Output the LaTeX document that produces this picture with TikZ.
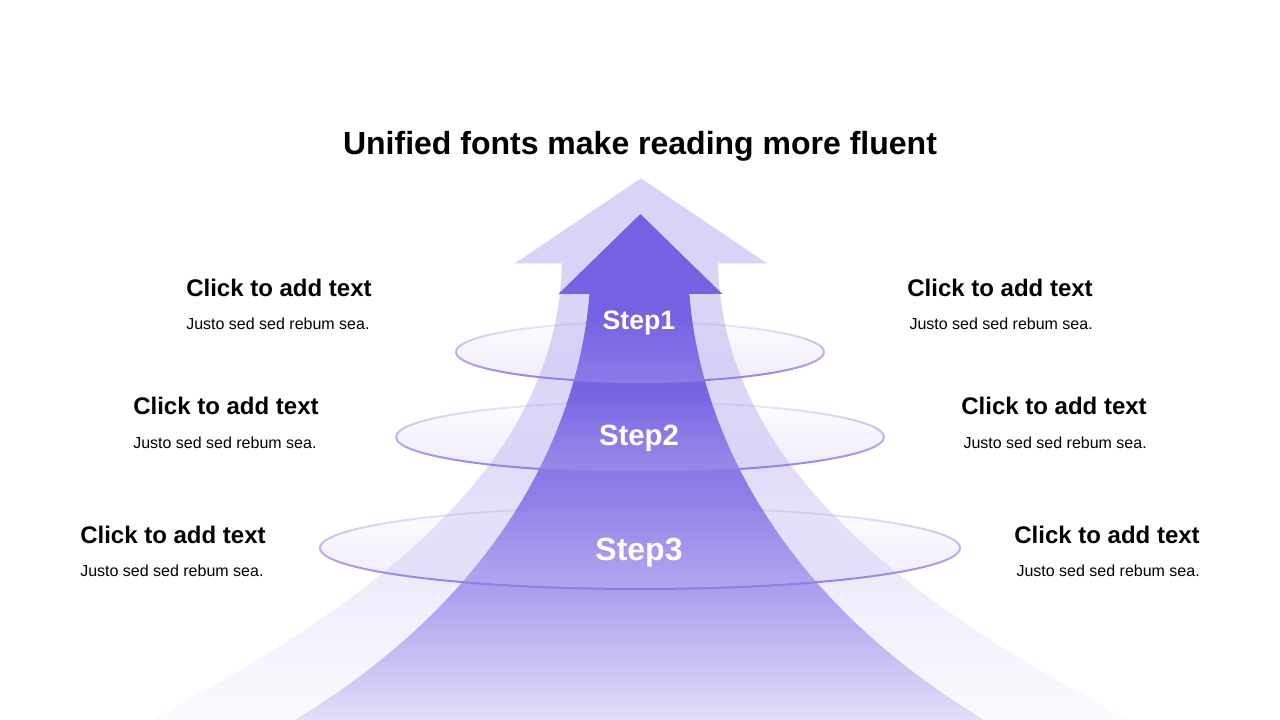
\documentclass[tikz,border=0pt]{standalone}
\usepackage{fontspec}
\setmainfont{Liberation Sans}
\usetikzlibrary{fadings}

\definecolor{arrowdark}{HTML}{7462E3}
\definecolor{arrowlight}{HTML}{D9D3F7}
\definecolor{ringline}{HTML}{8C7DE6}
\definecolor{ringfill}{HTML}{C5BCF3}

% opacity profiles of the two arrows (25bp = bottom of path, 75bp = top)
\pgfdeclareverticalshading{outerprofile}{100bp}{gray(0bp)=(0.1); gray(25bp)=(0.1);
  gray(36bp)=(0.37); gray(47bp)=(0.74); gray(58bp)=(0.95); gray(75bp)=(1); gray(100bp)=(1)}
\pgfdeclareverticalshading{innerprofile}{100bp}{gray(0bp)=(0.17); gray(25bp)=(0.17);
  gray(38bp)=(0.56); gray(49bp)=(0.8); gray(59bp)=(1); gray(75bp)=(1); gray(100bp)=(1)}
\begin{tikzfadingfrompicture}[name=outerfade]
  \path (-50bp,-50bp) rectangle (50bp,50bp);
  \shade[shading=outerprofile] (-25bp,-25bp) rectangle (25bp,25bp);
\end{tikzfadingfrompicture}
\begin{tikzfadingfrompicture}[name=innerfade]
  \path (-50bp,-50bp) rectangle (50bp,50bp);
  \shade[shading=innerprofile] (-25bp,-25bp) rectangle (25bp,25bp);
\end{tikzfadingfrompicture}
\tikzfading[name=ringfade, top color=transparent!88, bottom color=transparent!0]

\tikzset{
  ring/.style={fill=ringfill, fill opacity=.28, draw=ringline, draw opacity=1,
    line width=1.5pt, path fading=ringfade},
  headtext/.style={font=\bfseries\fontsize{18}{20}\selectfont, inner sep=0pt},
  subtext/.style={font=\fontsize{12}{14}\selectfont, inner sep=0pt},
  steplabel/.style={text=white, anchor=base, inner sep=0pt},
}

\begin{document}
\begin{tikzpicture}[x=0.75pt,y=-0.75pt]
\fill[white] (0,0) rectangle (1280,720);
\useasboundingbox (0,0) rectangle (1280,720);

% outer light arrow
\fill[arrowlight, path fading=outerfade] (641,178) -- (767,263) -- (718,263)
  .. controls (722,450) and (880,590) .. (1130,720) -- (150,720)
  .. controls (400,590) and (558,450) .. (562,263) -- (515,263) -- cycle;

% inner arrow
\fill[arrowdark, path fading=innerfade] (641,214) -- (723,294) -- (690,294)
  .. controls (700,420) and (770,590) .. (985,720) -- (295,720)
  .. controls (510,590) and (580,420) .. (590,294) -- (559,294) -- cycle;

% rings
\foreach \cy/\rx/\ry in {352/184/30, 437/244/35, 548/320/41}
  \path[ring] (640,\cy) ellipse [x radius=\rx, y radius=\ry];

\node[font=\bfseries\fontsize{24}{28}\selectfont, anchor=base, inner sep=0pt] (title)
  at (640,155) {Unified fonts make reading more fluent};

\node[steplabel, font=\bfseries\fontsize{20}{24}\selectfont] (step1) at (639,329) {Step1};
\node[steplabel, font=\bfseries\fontsize{22}{26}\selectfont] (step2) at (639,445) {Step2};
\node[steplabel, font=\bfseries\fontsize{24}{28}\selectfont] (step3) at (639,560) {Step3};

% left column
\node[headtext, anchor=base west] (lhead1) at (186,296) {Click to add text};
\node[subtext, anchor=base west] (lsub1) at (186,329) {Justo sed sed rebum sea.};
\node[headtext, anchor=base west] (lhead2) at (133,414) {Click to add text};
\node[subtext, anchor=base west] (lsub2) at (133,448) {Justo sed sed rebum sea.};
\node[headtext, anchor=base west] (lhead3) at (80,543) {Click to add text};
\node[subtext, anchor=base west] (lsub3) at (80,576) {Justo sed sed rebum sea.};

% right column
\node[headtext, anchor=base east] (rhead1) at (1093,296) {Click to add text};
\node[subtext, anchor=base east] (rsub1) at (1093,329) {Justo sed sed rebum sea.};
\node[headtext, anchor=base east] (rhead2) at (1147,414) {Click to add text};
\node[subtext, anchor=base east] (rsub2) at (1147,448) {Justo sed sed rebum sea.};
\node[headtext, anchor=base east] (rhead3) at (1200,543) {Click to add text};
\node[subtext, anchor=base east] (rsub3) at (1200,576) {Justo sed sed rebum sea.};
\end{tikzpicture}
\end{document}
